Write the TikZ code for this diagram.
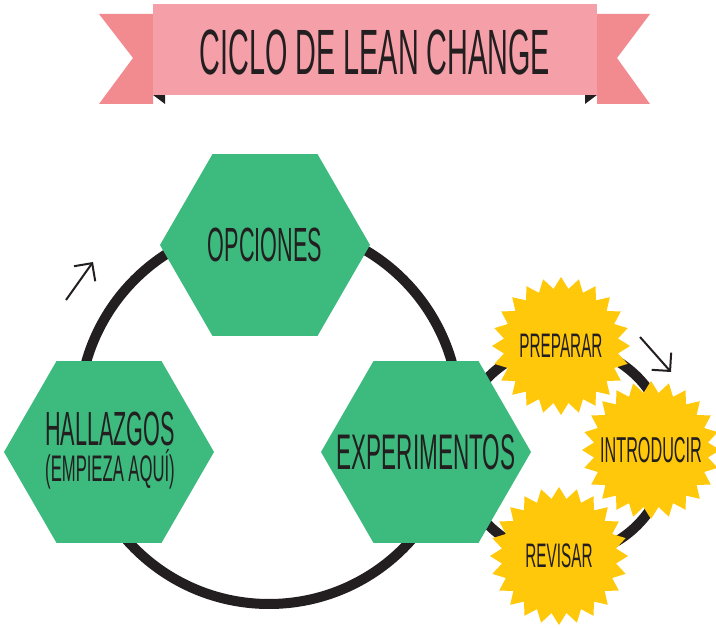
\documentclass[tikz,border=0pt]{standalone}
\usepackage{fontspec}
\newfontfamily\handfont[FakeStretch=0.45]{Liberation Sans}
\usetikzlibrary{shapes,arrows.meta,positioning}
\definecolor{inkdark}{HTML}{231F20}
\definecolor{ribbonpink}{HTML}{F5A0A8}
\definecolor{ribbontail}{HTML}{F28B8F}
\definecolor{hexgreen}{HTML}{3DBA7E}
\definecolor{burstyellow}{HTML}{FFC80A}
\begin{document}
\begin{tikzpicture}[x=1pt,y=-1pt,
    hexa/.style={regular polygon,regular polygon sides=6,minimum size=210pt,inner sep=0pt,fill=hexgreen},
    burst/.style={star,star points=24,star point ratio=1.2,minimum size=138pt,inner sep=0pt,fill=burstyellow},
    tag/.style={text=inkdark,inner sep=0pt,align=center},
    loopline/.style={draw=inkdark,line width=10pt},
    hintarrow/.style={draw=inkdark,line width=2pt,-{Straight Barb[length=13pt,width=26pt,line width=2pt]}}]
\useasboundingbox (0,0) rectangle (716,628);
                \fill[ribbontail] (99,14) -- (153,14) -- (153,104) -- (99,104) -- (133,58) -- cycle;
                \fill[ribbontail] (650,14) -- (597,14) -- (597,104) -- (650,104) -- (617,58) -- cycle;
                \fill[inkdark] (153,95) -- (165,95) -- (165,104) -- cycle;
                \fill[inkdark] (597,95) -- (585,95) -- (585,104) -- cycle;
                \fill[ribbonpink] (153,4) rectangle (597,95);
                \node[tag,font=\handfont\fontsize{64}{70}\selectfont] (title) at (375,52) {CICLO DE LEAN CHANGE};
                \draw[loopline] (269,414) circle[radius=190];
                \draw[loopline] (563,451) circle[radius=105];
                \node[hexa] (opciones) at (265,245) {};
                \node[hexa] (hallazgos) at (109,452) {};
                \node[hexa] (experimentos) at (426,452) {};
                \node[burst] (preparar) at (561,346) {};
                \node[burst] (introducir) at (651,450) {};
                \node[burst] (revisar) at (559,556) {};
                \node[tag,font=\handfont\fontsize{48}{52}\selectfont] (opcionestext) at (opciones) {OPCIONES};
                \node[tag,font=\handfont\fontsize{48}{36}\selectfont] (hallazgostext) at (110,451) {HALLAZGOS\\{\fontsize{37}{36}\selectfont(EMPIEZA AQUÍ)}};
                \node[tag,font=\handfont\fontsize{50}{54}\selectfont] (experimentostext) at (experimentos) {EXPERIMENTOS};
                \node[tag,font=\handfont\fontsize{34}{38}\selectfont] (prepararText) at (preparar) {PREPARAR};
                \node[tag,font=\handfont\fontsize{36}{40}\selectfont] (introducirtext) at (introducir) {INTRODUCIR};
                \node[tag,font=\handfont\fontsize{34}{38}\selectfont] (revisartext) at (revisar) {REVISAR};
                \coordinate (upstart) at (66,300);
                \coordinate (upend) at (93,262);
                \coordinate (downstart) at (640,337);
                \coordinate (downend) at (671,372);
                \draw[hintarrow] (upstart) -- (upend);
                \draw[hintarrow] (downstart) -- (downend);
\end{tikzpicture}
\end{document}
